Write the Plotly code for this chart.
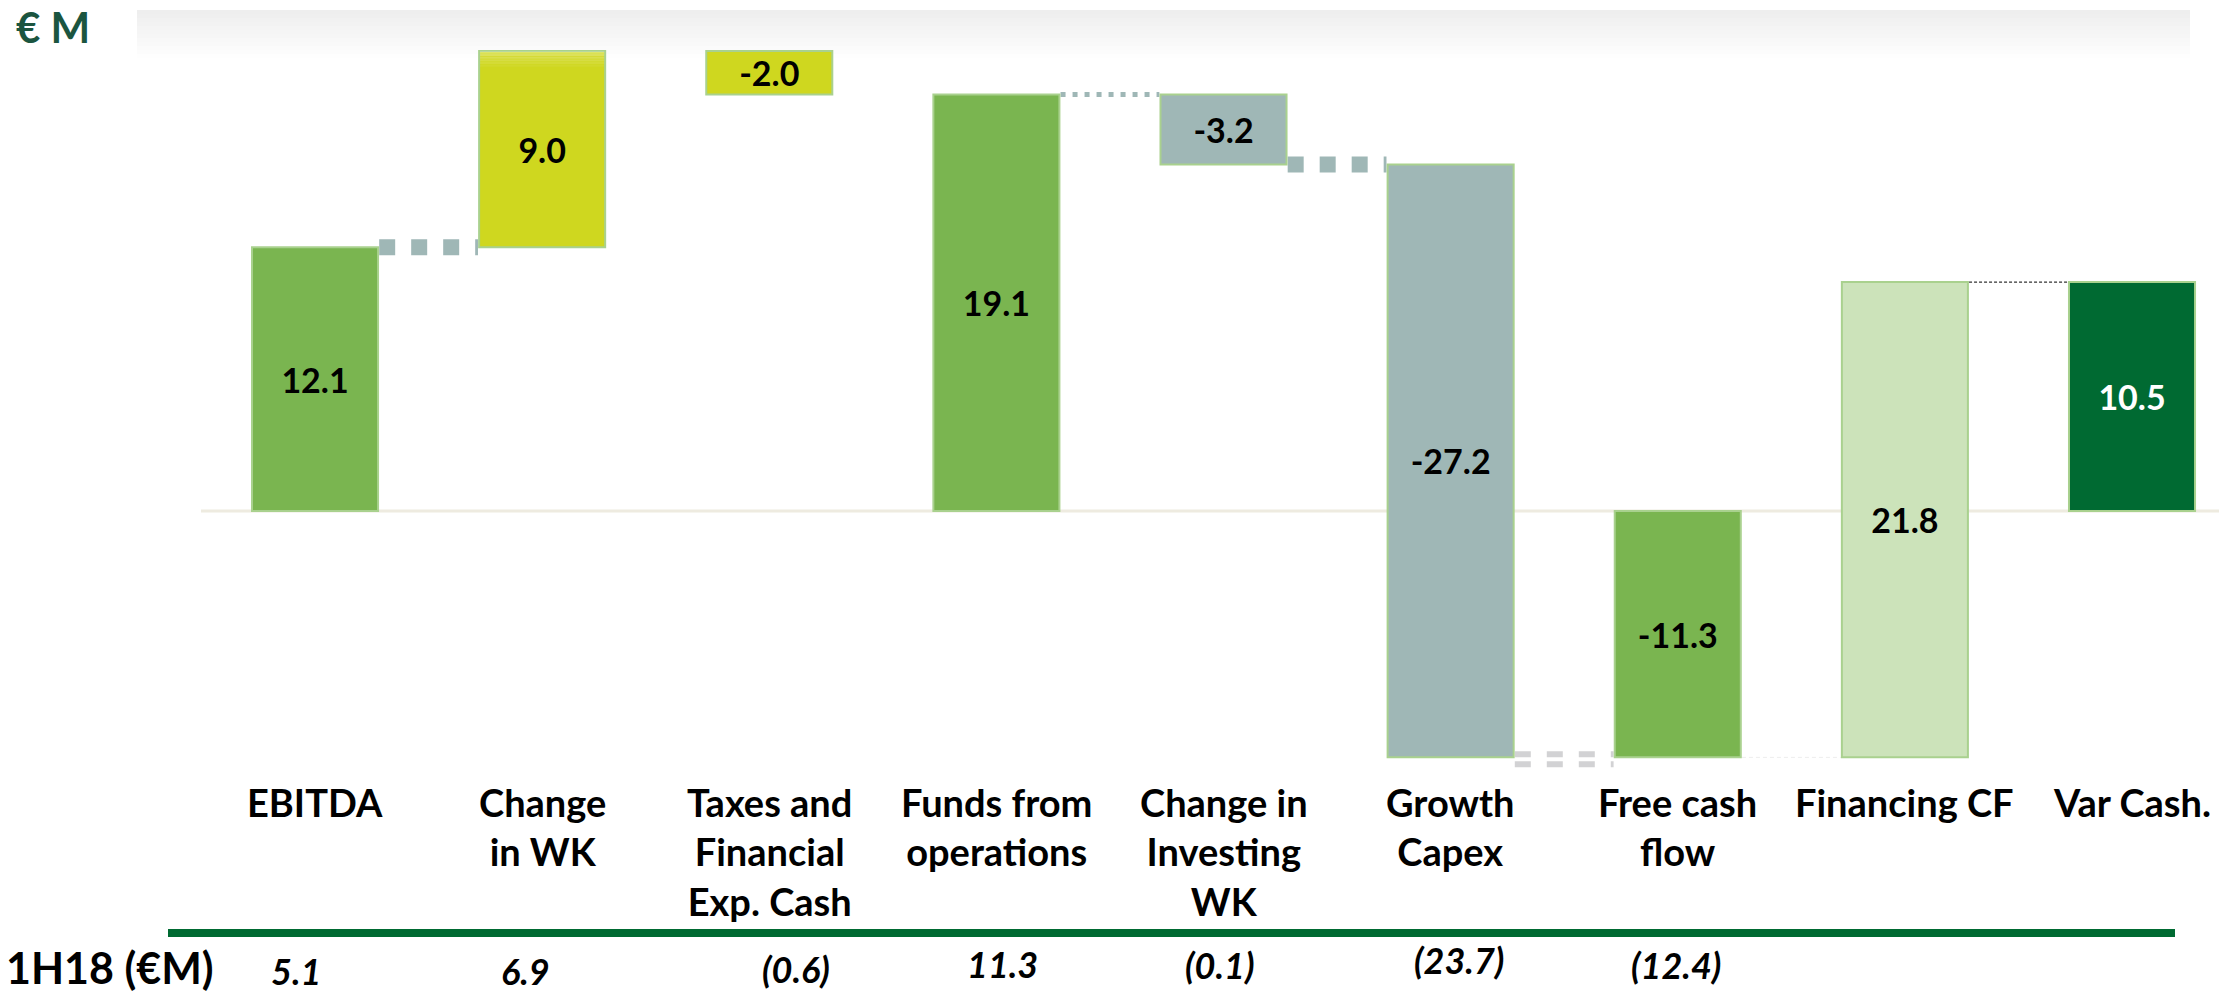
import plotly.graph_objects as go

# ---------------- data ----------------
categories = ["EBITDA", "Change in WK", "Taxes and Financial Exp. Cash",
              "Funds from operations", "Change in Investing WK", "Growth Capex",
              "Free cash flow", "Financing CF", "Var Cash."]
tick_labels = ["EBITDA", "Change<br>in WK", "Taxes and<br>Financial<br>Exp. Cash",
               "Funds from<br>operations", "Change in<br>Investing<br>WK", "Growth<br>Capex",
               "Free cash<br>flow", "Financing CF", "Var Cash."]
values = [12.1, 9.0, -2.0, 19.1, -3.2, -27.2, -11.3, 21.8, 10.5]
measures = ["absolute", "relative", "relative", "total", "relative", "relative",
            "total", "relative", "total"]
prior_label = "1H18 (€M)"
prior_values = ["5.1", "6.9", "(0.6)", "11.3", "(0.1)", "(23.7)", "(12.4)", "", ""]
unit_label = "€ M"

# ---------------- styles ----------------
GREEN = "#7AB550"
YELLOW = "#CFD71F"
GRAY = "#9FB7B6"
LIGHT = "#CCE3BA"
DARK = "#006A32"
bar_colors = [GREEN, YELLOW, YELLOW, GREEN, GRAY, GRAY, GREEN, LIGHT, DARK]
text_colors = ["black"] * 8 + ["white"]
FONT = "Lato"
W, H = 2219, 995
BAR_W = 0.555

# waterfall bases from the values
bases, heights, ends = [], [], []
running = 0.0
for v, m in zip(values, measures):
    if m == "relative":
        bases.append(running)
        heights.append(v)
        running += v
    else:
        bases.append(0.0)
        heights.append(v)
        running = v
    ends.append(running)

idx = list(range(len(categories)))

fig = go.Figure()
fig.add_trace(go.Bar(
    x=idx, y=heights, base=bases, width=BAR_W,
    marker=dict(color=bar_colors, line=dict(color="#A9D18E", width=2)),
    text=[f"{v:.1f}" for v in values],
    textposition="inside", insidetextanchor="middle", textangle=0,
    constraintext="none",
    textfont=dict(family=FONT, size=34, color=text_colors, weight="bold"),
    hoverinfo="skip", showlegend=False,
))

shapes = []
# top gradient band
n = 13
y0px, y1px = 10, 62
for k in range(n):
    t = k / (n - 1)
    c = int(round(0xEE + (0xFF - 0xEE) * t))
    ya = y0px + (y1px - y0px) * k / n
    yb = y0px + (y1px - y0px) * (k + 1) / n
    shapes.append(dict(type="rect", xref="paper", yref="paper",
                       x0=137 / W, x1=2190 / W, y0=1 - yb / H, y1=1 - ya / H,
                       fillcolor=f"rgb({c},{c},{c})", line=dict(width=0), layer="below"))
# baseline
shapes.append(dict(type="line", xref="paper", yref="y", x0=201 / W, x1=1, y0=0, y1=0,
                   line=dict(color="#EEEBE0", width=3), layer="below"))

# light sheen at the top of the "Change in WK" bar
top1 = bases[1] + heights[1]
m = 6
for k in range(m):
    op = 0.32 * (1 - k / m)
    shapes.append(dict(type="rect", xref="x", yref="y",
                       x0=1 - BAR_W / 2 + 0.004, x1=1 + BAR_W / 2 - 0.004,
                       y0=top1 - 0.12 * (k + 1), y1=top1 - 0.12 * k - 0.02,
                       fillcolor=f"rgba(255,255,255,{op:.3f})", line=dict(width=0),
                       layer="above"))

# connectors
def conn(i, y, color, width, dash, yshift=0.0):
    shapes.append(dict(type="line", xref="x", yref="y",
                       x0=i + BAR_W / 2 + 0.005, x1=i + 1 - BAR_W / 2 - 0.005,
                       y0=y + yshift, y1=y + yshift,
                       line=dict(color=color, width=width, dash=dash), layer="below"))

conn(0, ends[0], GRAY, 16, "16px,16px")
conn(3, ends[3], GRAY, 5, "5px,7px")
conn(4, ends[4], GRAY, 16, "16px,16px")
conn(5, ends[5], "#D2D2D4", 6, "16px,16px", yshift=0.14)
conn(5, ends[5], "#D2D2D4", 6, "16px,16px", yshift=-0.32)
conn(6, ends[6], "#EDEDED", 1, "4px,3px")
conn(7, ends[7], "#333333", 1.2, "3px,2px")

# green rule
shapes.append(dict(type="rect", xref="paper", yref="paper",
                   x0=168 / W, x1=2175 / W, y0=1 - 937 / H, y1=1 - 929 / H,
                   fillcolor=DARK, line=dict(width=0)))

annotations = []
annotations.append(dict(text=f"<b>{unit_label}</b>", xref="paper", yref="paper",
                        x=14 / W, y=1, xanchor="left", yanchor="top",
                        showarrow=False, font=dict(family=FONT, size=42, color="#1B5540")))
for i, lab in enumerate(tick_labels):
    annotations.append(dict(text=f"<b>{lab}</b>", xref="x", yref="paper",
                            x=i, y=1 - 777 / H, xanchor="center", yanchor="top",
                            showarrow=False, font=dict(family=FONT, size=38, color="black")))
annotations.append(dict(text=f"<b>{prior_label}</b>", xref="paper", yref="paper",
                        x=4 / W, y=0, xanchor="left", yanchor="bottom",
                        showarrow=False, font=dict(family=FONT, size=43, color="black")))
xshifts = [-19, -17, 27, 6, -4, 8, -2, 0, 0]
yshifts = [0, 0, 2, 7, 6, 11, 6, 0, 0]
for i, pv in enumerate(prior_values):
    if pv:
        annotations.append(dict(text=f"<b><i>{pv}</i></b>", xref="x", yref="paper",
                                x=i, y=0, xshift=xshifts[i], yshift=yshifts[i],
                                xanchor="center", yanchor="bottom", showarrow=False,
                                font=dict(family=FONT, size=36, color="black")))

fig.update_layout(
    width=W, height=H, margin=dict(l=0, r=0, t=0, b=0),
    paper_bgcolor="white", plot_bgcolor="white",
    xaxis=dict(range=[-1.387, 8.383], visible=False, fixedrange=True),
    yaxis=dict(range=[-22.20, 23.44], visible=False, fixedrange=True),
    shapes=shapes, annotations=annotations, bargap=0,
    font=dict(family=FONT),
)
fig.write_html(
    "out.html",
    config={"displayModeBar": False, "staticPlot": True},
    post_script="document.body.style.margin='0px';document.body.style.padding='0px';"
                "document.body.style.overflow='hidden';",
)
